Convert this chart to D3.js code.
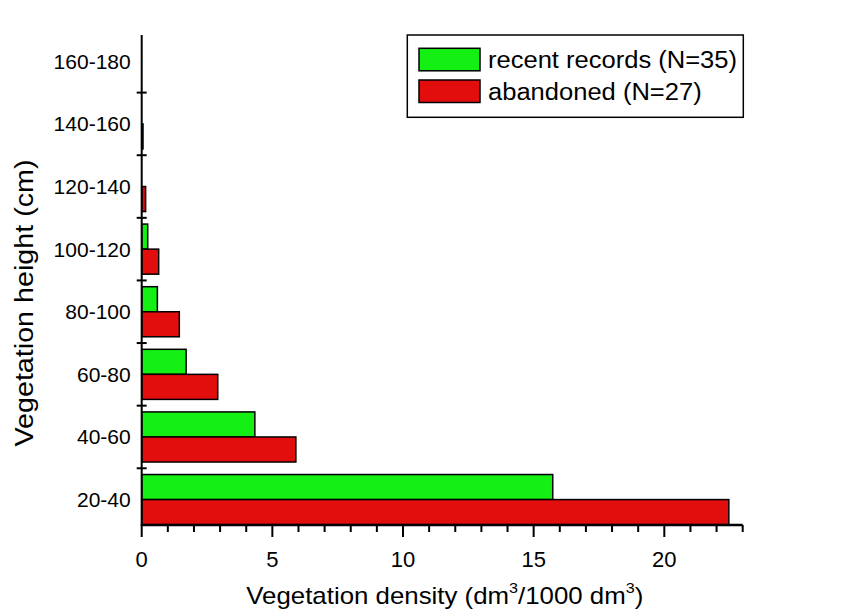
<!DOCTYPE html>
<html>
<head>
<meta charset="utf-8">
<script src="https://cdn.jsdelivr.net/npm/d3@7"></script>
<style>
  html, body { margin: 0; padding: 0; background: #fff; }
  svg { display: block; }
  text { font-family: "Liberation Sans", Arial, sans-serif; fill: #000; }
</style>
</head>
<body>
<svg id="chart" width="865" height="612"></svg>
<script>
// ---- data ----
const categories = ["20-40", "40-60", "60-80", "80-100", "100-120", "120-140", "140-160", "160-180"];
const recentRecords = [15.73, 4.33, 1.70, 0.60, 0.23, 0.0, 0.0, 0.0];
const abandoned = [22.47, 5.90, 2.91, 1.44, 0.65, 0.15, 0.05, 0.0];
const seriesNames = ["recent records (N=35)", "abandoned (N=27)"];
const xTickLabels = [0, 5, 10, 15, 20];

const colors = { recent: "#14f014", abandoned: "#e20d0d" };

const svg = d3.select("#chart");
const plotLeft = 141.7, plotRight = 742.7, plotTop = 35, plotBottom = 525;

const x = d3.scaleLinear().domain([0, 23]).range([plotLeft, plotRight]);
const y = d3.scaleLinear().domain([0.594, 8.42]).range([plotBottom, plotTop]);
const half = 0.4;

// bars
const g = svg.append("g");
categories.forEach((c, i) => {
  const idx = i + 1;
  if (recentRecords[i] > 0) {
    g.append("rect")
      .attr("x", x(0)).attr("y", y(idx + half))
      .attr("width", x(recentRecords[i]) - x(0))
      .attr("height", y(idx) - y(idx + half))
      .attr("fill", colors.recent).attr("stroke", "#000").attr("stroke-width", 1.5);
  }
  if (abandoned[i] > 0) {
    g.append("rect")
      .attr("x", x(0)).attr("y", y(idx))
      .attr("width", x(abandoned[i]) - x(0))
      .attr("height", y(idx - half) - y(idx))
      .attr("fill", colors.abandoned).attr("stroke", "#000").attr("stroke-width", 1.5);
  }
});

// x axis
const xAxisG = svg.append("g");
xAxisG.append("line").attr("x1", plotLeft - 1).attr("x2", plotRight).attr("y1", plotBottom).attr("y2", plotBottom)
  .attr("stroke", "#000").attr("stroke-width", 2.5);
d3.range(0, 24).forEach(v => {
  const major = xTickLabels.includes(v);
  xAxisG.append("line").attr("x1", x(v)).attr("x2", x(v))
    .attr("y1", plotBottom).attr("y2", plotBottom + (major ? 12 : 7))
    .attr("stroke", "#000").attr("stroke-width", 2);
});
xTickLabels.forEach(v => {
  xAxisG.append("text").attr("x", x(v)).attr("y", 567)
    .attr("text-anchor", "middle").attr("font-size", 22).text(v);
});

// y axis
const yAxisG = svg.append("g");
yAxisG.append("line").attr("x1", plotLeft).attr("x2", plotLeft).attr("y1", plotTop).attr("y2", plotBottom)
  .attr("stroke", "#000").attr("stroke-width", 2);
d3.range(1, 8).forEach(v => {
  yAxisG.append("line").attr("x1", plotLeft - 5).attr("x2", plotLeft + 5)
    .attr("y1", y(v + 0.5)).attr("y2", y(v + 0.5))
    .attr("stroke", "#000").attr("stroke-width", 2);
});
categories.forEach((c, i) => {
  yAxisG.append("text").attr("x", 130.7).attr("y", y(i + 1) + 7.5)
    .attr("text-anchor", "end").attr("font-size", 21).text(c);
});

// axis titles
svg.append("text")
  .attr("transform", "translate(33,303) rotate(-90)")
  .attr("text-anchor", "middle").attr("font-size", 26)
  .attr("textLength", 287).attr("lengthAdjust", "spacingAndGlyphs")
  .text("Vegetation height (cm)");

const xTitle = svg.append("text")
  .attr("x", 444.8).attr("y", 604)
  .attr("text-anchor", "middle").attr("font-size", 24);
xTitle.append("tspan").text("Vegetation density (dm");
xTitle.append("tspan").attr("font-size", 15).attr("dy", -11).text("3");
xTitle.append("tspan").attr("dy", 11).text("/1000 dm");
xTitle.append("tspan").attr("font-size", 15).attr("dy", -11).text("3");
xTitle.append("tspan").attr("dy", 11).text(")");
xTitle.attr("textLength", 397).attr("lengthAdjust", "spacingAndGlyphs");

// legend
const lg = svg.append("g");
lg.append("rect").attr("x", 407.3).attr("y", 35).attr("width", 336).attr("height", 82.3)
  .attr("fill", "#fff").attr("stroke", "#000").attr("stroke-width", 1.5);
const legendItems = [
  { name: seriesNames[0], color: colors.recent, y: 48.3 },
  { name: seriesNames[1], color: colors.abandoned, y: 80 }
];
legendItems.forEach(d => {
  lg.append("rect").attr("x", 419).attr("y", d.y).attr("width", 61).attr("height", 22.5)
    .attr("fill", d.color).attr("stroke", "#000").attr("stroke-width", 1.5);
  lg.append("text").attr("x", 488).attr("y", d.y + 19.5)
    .attr("font-size", 23).text(d.name);
});
lg.selectAll("text").each(function() {
  const w = this.getComputedTextLength();
  d3.select(this).attr("textLength", w * 1.11).attr("lengthAdjust", "spacingAndGlyphs");
});
</script>
</body>
</html>
